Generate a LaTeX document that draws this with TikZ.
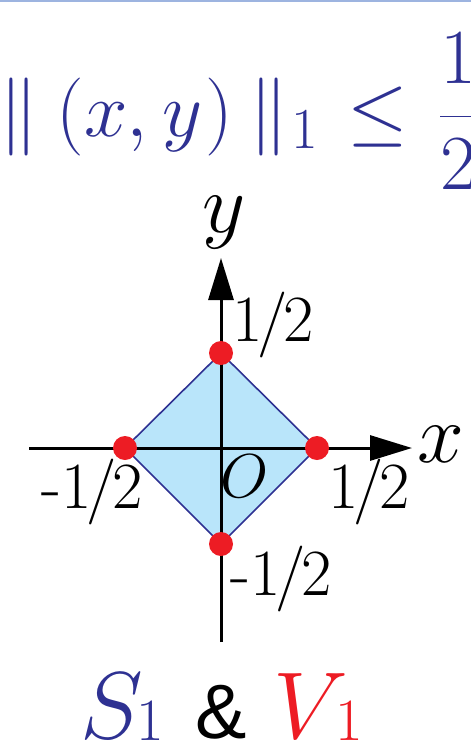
\RequirePackage{fix-cm}
\documentclass[tikz,border=0pt]{standalone}
\usepackage[no-math]{fontspec}
\newfontfamily\sansf{Liberation Sans}
\usetikzlibrary{arrows.meta}
\definecolor{dblue}{HTML}{2E3192}
\definecolor{lblue}{HTML}{B9E5FA}
\definecolor{dred}{HTML}{ED1C24}
\definecolor{topline}{HTML}{9DB4E0}
\newcommand{\half}{1\kern-0.07em/\kern-0.07em2}
\tikzset{
  gly/.style={anchor=base, inner sep=0pt, text=dblue, font=\fontsize{78}{80}\selectfont},
  lbl/.style={anchor=base, inner sep=0pt, font=\fontsize{66}{70}\selectfont},
  axisline/.style={line width=3pt, -{Triangle[length=42pt,width=25pt]}},
  reddot/.style={circle, fill=dred, minimum size=24pt, inner sep=0pt},
  axlbl/.style={anchor=base, inner sep=0pt, font=\fontsize{84}{90}\selectfont},
  subtxt/.style={anchor=base, inner sep=0pt, font=\fontsize{60}{60}\selectfont},
  captxt/.style={anchor=base, inner sep=0pt, font=\fontsize{95}{95}\selectfont},
}
\begin{document}
\begin{tikzpicture}[x=1pt,y=-1pt]
\useasboundingbox (0,0) rectangle (471,750);
\clip (0,0) rectangle (471,750);
\fill[topline] (0,0) rectangle (471,2);
% formula, glyph by glyph
\node[gly] (n1) at (19,136) {$\|$};
\node[gly] (op) at (70,136) {$($};
\node[gly] (fx) at (106,136) {$x$};
\node[gly] (cm) at (137,136) {$,$};
\node[gly] (fy) at (183,136) {$y$};
\node[gly] (cp) at (219,136) {$)$};
\node[gly] (n2) at (269,136) {$\|$};
\node[gly, font=\fontsize{58}{60}\selectfont] (n3) at (304.5,148) {$1$};
\node[gly] (le) at (378,136) {$\le$};
\node[gly, anchor=base west] (fr) at (439,136) {$\displaystyle\frac{1}{2}$};
% diamond
\coordinate (T) at (221,353);
\coordinate (R) at (317,448);
\coordinate (B) at (221,544);
\coordinate (L) at (125,448);
\fill[lblue] (T) -- (R) -- (B) -- (L) -- cycle;
\draw[dblue, line width=1.6pt] (T) -- (R) -- (B) -- (L) -- cycle;
% axes
\coordinate (xs) at (29,448);
\coordinate (xe) at (412,448);
\coordinate (ys) at (221,642);
\coordinate (ye) at (221,258);
\draw[axisline] (xs) -- (xe);
\draw[axisline] (ys) -- (ye);
% dots
\node[reddot] (dT) at (T) {};
\node[reddot] (dR) at (R) {};
\node[reddot] (dB) at (B) {};
\node[reddot] (dL) at (L) {};
% labels
\node[axlbl] (xl) at (441,462) {$x$};
\node[axlbl] (yl) at (224,232) {$y$};
\node[lbl] (lt) at (273,341) {\half};
\node[lbl] (ll) at (92,508) {-\half};
\node[lbl] (lr) at (369,508) {\half};
\node[lbl] (lb) at (281,595) {-\half};
\node[lbl, font=\fontsize{62}{62}\selectfont] (lo) at (245,497) {$O$};
% caption
\node[captxt, text=dblue] (sS) at (112,738) {$S$};
\node[subtxt, text=dblue] (s1) at (150,740) {1};
\node[anchor=base, inner sep=0pt] (amp) at (221,738) {\sansf\fontsize{77}{80}\selectfont \&};
\node[captxt, text=dred] (vV) at (311,738) {$V$};
\node[subtxt, text=dred] (v1) at (349,740) {1};
\end{tikzpicture}
\end{document}
